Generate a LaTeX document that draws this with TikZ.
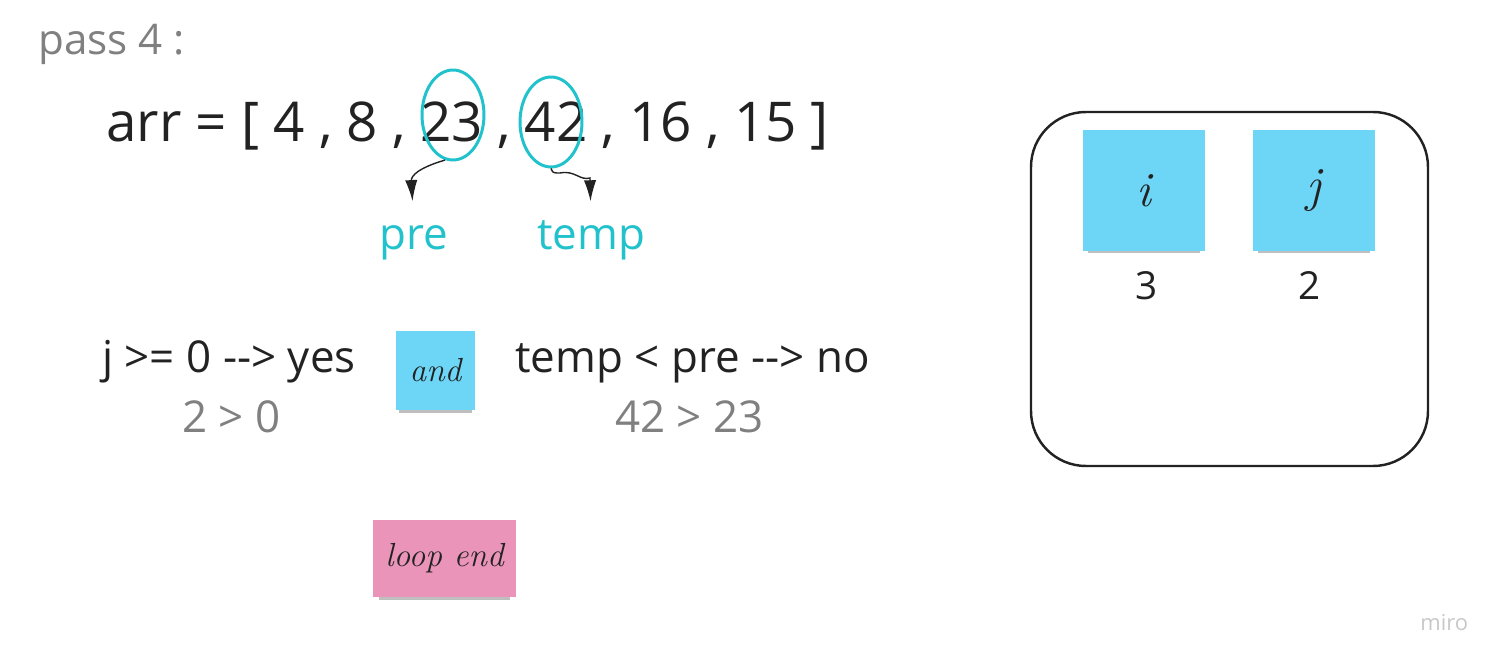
\documentclass[tikz,border=0pt]{standalone}
\usepackage{fontspec}
\newfontfamily\osans{Open Sans}
\usetikzlibrary{arrows.meta, shapes.geometric, shadows}

\definecolor{ink}{HTML}{222222}
\definecolor{greytxt}{HTML}{808080}
\definecolor{tealtxt}{HTML}{22C2CC}
\definecolor{stickyblue}{HTML}{6DD6F6}
\definecolor{stickypink}{HTML}{EA94BA}
\definecolor{mirogrey}{HTML}{C8C8C8}

\begin{document}
\begin{tikzpicture}[x={(0.02cm,0)}, y={(0,-0.02cm)},
    every node/.style={inner sep=0pt, text=ink},
    txt/.style={font=\osans\fontsize{25}{30}\selectfont, anchor=base west},
    hint/.style={txt, text=greytxt},
    sticky/.style={draw=none, minimum width=#1, minimum height=#1,
        drop shadow={shadow xshift=0pt, shadow yshift=-4pt, shadow scale=0.92, opacity=0.5}},
    hand/.style={font=\itshape\fontsize{19}{23}\selectfont},
    ring/.style={ellipse, draw=tealtxt, line width=1.7pt, minimum width=1.24cm, minimum height=1.8cm},
    pointer/.style={-{Latex[length=12pt, width=7pt]}, line width=0.8pt, ink}]

    \useasboundingbox (0,0) rectangle (1502,665);

    % title
    \node[txt, text=greytxt, font=\osans\fontsize{24}{29}\selectfont] (title) at (38,55) {pass 4 :};

    % the array
    \node[txt, font=\osans\fontsize{31.2}{37}\selectfont] (arr) at (106,142) {arr = [ 4 , 8 , 23 , 42 , 16 , 15 ]};

    % circles round 23 and 42
    \node[ring] (c23) at (453,115) {};
    \node[ring] (c42) at (551,122) {};

    % pre and temp
    \node[txt, text=tealtxt, anchor=base] (pre) at (414,250) {pre};
    \node[txt, text=tealtxt, anchor=base] (temp) at (591,250) {temp};

    \draw[pointer, shorten >=14pt] (c23.-100) .. controls (418,168) and (411,176) .. (pre.north);
    \draw[pointer, shorten >=11pt] (c42.south) .. controls (553,173) .. (560,173)
        .. controls (575,170) and (580,181) .. (590,178) -- (temp.north);

    % conditions
    \node[txt] (cond1) at (102,373) {j >= 0 --> yes};
    \node[hint] (val1) at (182,433) {2 > 0};
    \node[sticky=1.58cm, fill=stickyblue, hand] (and) at (435.5,370.5) {and};
    \node[txt] (cond2) at (515,373) {temp < pre --> no};
    \node[hint] (val2) at (615,433) {42 > 23};

    % loop end
    \node[sticky=1.54cm, minimum width=2.86cm, fill=stickypink, hand] (loopend) at (444.5,558.5) {loop end};

    % variables box
    \draw[line width=1.4pt, rounded corners=1.1cm, ink] (1031,112) rectangle (1428,466);
    \node[sticky=2.43cm, fill=stickyblue, hand, font=\itshape\fontsize{28}{32}\selectfont] (vari) at (1144,190.5) {i};
    \node[sticky=2.43cm, fill=stickyblue, hand, font=\itshape\fontsize{28}{32}\selectfont] (varj) at (1314,190.5) {j};
    \node[txt, anchor=base, font=\osans\fontsize{22}{26}\selectfont] (vali) at (1147,300) {3};
    \node[txt, anchor=base, font=\osans\fontsize{22}{26}\selectfont] (valj) at (1310,300) {2};

    % watermark
    \node[txt, text=mirogrey, font=\osans\fontsize{12.5}{15}\selectfont] (miro) at (1420,630) {miro};

\end{tikzpicture}
\end{document}
